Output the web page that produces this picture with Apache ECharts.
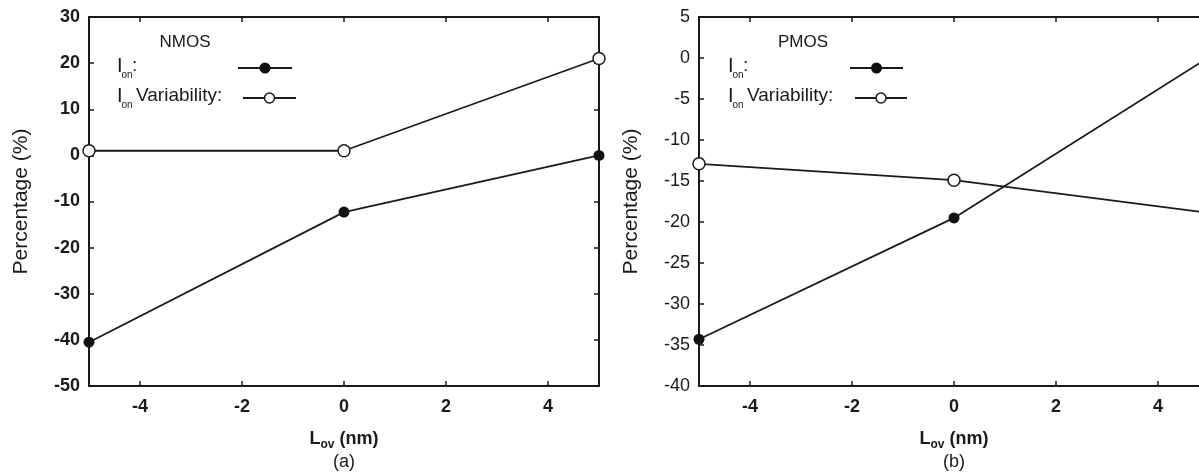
<!DOCTYPE html>
<html>
<head>
<meta charset="utf-8">
<script src="https://cdn.jsdelivr.net/npm/echarts@6/dist/echarts.min.js"></script>
<style>
html,body{margin:0;padding:0;background:#fff;}
#chart{width:1199px;height:476px;}
</style>
</head>
<body>
<div id="chart"></div>
<script>
// ---- data ----
const lovValues = [-5, 0, 5];                 // L_ov (nm)
const nmosIon = [-40.5, -12.3, 0];           // NMOS I_on (%)
const nmosIonVar = [1, 1, 21];               // NMOS I_on variability (%)
const pmosIon = [-34.3, -19.5, 0.1];         // PMOS I_on (%)
const pmosIonVar = [-12.9, -14.9, -18.9];    // PMOS I_on variability (%)
const xTicks = [-4, -2, 0, 2, 4];
const panelTitles = ['NMOS', 'PMOS'];
const panelCaptions = ['(a)', '(b)'];

const FONT = '"Liberation Sans", Arial, Helvetica, sans-serif';
const INK = '#1a1a1a';

function pairs(ys) { return lovValues.map((x, i) => [x, ys[i]]); }

const chart = echarts.init(document.getElementById('chart'), null, {renderer: 'canvas'});

function xAx(grid, pos, labels) {
  return {
    type: 'value', gridIndex: grid, position: pos, min: -5, max: 5,
    axisLine: {show: true, onZero: false, lineStyle: {color: INK, width: 2}},
    axisTick: {show: true, inside: true, length: 5, customValues: xTicks, lineStyle: {color: INK, width: 1.5}},
    axisLabel: labels ? {show: true, customValues: xTicks, margin: 12, color: INK, fontFamily: FONT, fontSize: 18, fontWeight: 'bold'} : {show: false},
    splitLine: {show: false},
    name: labels ? '{a|L}{b|ov}{a| (nm)}' : '',
    nameLocation: 'middle', nameGap: 40,
    nameTextStyle: {
      color: INK, fontFamily: FONT,
      rich: {
        a: {fontSize: 18, fontWeight: 'bold', fontFamily: FONT, color: INK, lineHeight: 22, verticalAlign: 'bottom'},
        b: {fontSize: 12, fontWeight: 'bold', fontFamily: FONT, color: INK, lineHeight: 22, verticalAlign: 'bottom', padding: [0, 0, -3, 0]}
      }
    }
  };
}
function yAx(grid, pos, min, max, interval, labels, bold) {
  return {
    type: 'value', gridIndex: grid, position: pos, min: min, max: max, interval: interval,
    axisLine: {show: true, onZero: false, lineStyle: {color: INK, width: 2}},
    axisTick: {show: true, inside: true, length: 5, lineStyle: {color: INK, width: 1.5}},
    axisLabel: labels ? {show: true, margin: 9, color: INK, fontFamily: FONT, fontSize: 18, fontWeight: bold ? 'bold' : 'normal'} : {show: false},
    splitLine: {show: false},
    name: labels ? 'Percentage (%)' : '',
    nameLocation: 'middle', nameGap: 57, nameRotate: 90,
    nameTextStyle: {color: INK, fontFamily: FONT, fontSize: 21}
  };
}

const filled = {
  symbol: 'circle', symbolSize: 11,
  itemStyle: {color: '#111'},
  lineStyle: {color: INK, width: 1.8}
};
const open = {
  symbol: 'circle', symbolSize: 12,
  itemStyle: {color: '#fff', borderColor: INK, borderWidth: 1.5},
  lineStyle: {color: INK, width: 1.8}
};

function legendGraphics(x0, legLine1, legLine2, titleX, title) {
  const t = (x, y, s, size, weight) => ({
    type: 'text', x: x, y: y, silent: true,
    style: {text: s, fill: INK, font: (weight || 'normal') + ' ' + size + 'px ' + FONT, textVerticalAlign: 'middle', textAlign: 'left'}
  });
  return [
    {type: 'text', x: titleX, y: 42, silent: true,
     style: {text: title, fill: INK, font: 'normal 17px ' + FONT, textAlign: 'center', textVerticalAlign: 'middle'}},
    t(x0, 66, 'I', 20), t(x0 + 4.5, 75, 'on', 10), t(x0 + 15, 66, ':', 19),
    t(x0, 96, 'I', 20), t(x0 + 4.5, 105.5, 'on', 10), t(x0 + 19, 96, 'Variability:', 19),
    {type: 'line', silent: true, shape: {x1: legLine1[0], y1: 68, x2: legLine1[1], y2: 68}, style: {stroke: INK, lineWidth: 1.8}},
    {type: 'circle', silent: true, shape: {cx: (legLine1[0] + legLine1[1]) / 2, cy: 68, r: 5.5}, style: {fill: '#111'}},
    {type: 'line', silent: true, shape: {x1: legLine2[0], y1: 98, x2: legLine2[1], y2: 98}, style: {stroke: INK, lineWidth: 1.8}},
    {type: 'circle', silent: true, shape: {cx: (legLine2[0] + legLine2[1]) / 2, cy: 98, r: 5}, style: {fill: '#fff', stroke: INK, lineWidth: 1.5}}
  ];
}

const option = {
  backgroundColor: '#fff',
  animation: false,
  grid: [
    {left: 89, top: 17, width: 510, height: 369, outerBoundsMode: 'none', containLabel: false},
    {left: 699, top: 17, width: 510, height: 369, outerBoundsMode: 'none', containLabel: false}
  ],
  xAxis: [xAx(0, 'bottom', true), xAx(0, 'top', false), xAx(1, 'bottom', true), xAx(1, 'top', false)],
  yAxis: [
    yAx(0, 'left', -50, 30, 10, true, true), yAx(0, 'right', -50, 30, 10, false),
    yAx(1, 'left', -40, 5, 5, true, false), yAx(1, 'right', -40, 5, 5, false)
  ],
  series: [
    Object.assign({type: 'line', name: 'NMOS I_on', xAxisIndex: 0, yAxisIndex: 0, data: pairs(nmosIon)}, filled),
    Object.assign({type: 'line', name: 'NMOS I_on Variability', xAxisIndex: 0, yAxisIndex: 0, data: pairs(nmosIonVar)}, open),
    Object.assign({type: 'line', name: 'PMOS I_on', xAxisIndex: 2, yAxisIndex: 2, data: pairs(pmosIon)}, filled),
    Object.assign({type: 'line', name: 'PMOS I_on Variability', xAxisIndex: 2, yAxisIndex: 2, data: pairs(pmosIonVar)}, open)
  ],
  graphic: [].concat(
    legendGraphics(117, [238, 292], [243, 296], 185, panelTitles[0]),
    legendGraphics(728, [850, 903], [855, 907], 803, panelTitles[1]),
    [
      {type: 'text', x: 344, y: 462, silent: true, style: {text: panelCaptions[0], fill: INK, font: 'normal 18px ' + FONT, textAlign: 'center', textVerticalAlign: 'middle'}},
      {type: 'text', x: 954, y: 462, silent: true, style: {text: panelCaptions[1], fill: INK, font: 'normal 18px ' + FONT, textAlign: 'center', textVerticalAlign: 'middle'}}
    ]
  )
};
chart.setOption(option);
</script>
</body>
</html>
